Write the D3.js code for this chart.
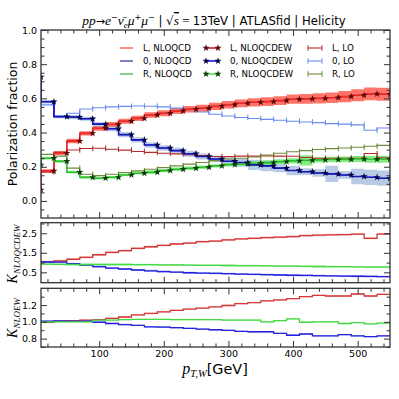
<!DOCTYPE html>
<html><head><meta charset="utf-8">
<script src="https://cdn.jsdelivr.net/npm/d3@7"></script>
<style>body{margin:0;background:#fff} svg{display:block}</style>
</head><body>
<svg id="c" width="399" height="399"></svg>
<script>
// ---------- data ----------
const pt = [10,30,50,70,90,110,130,150,170,190,210,230,250,270,290,310,330,350,370,390,410,430,450,470,490,510,530,550];
const polLabels = ["L", "0", "R"];
const calcLabels = ["NLOQCD", "NLOQCDEW", "LO"];

const L_NLOQCD   = [0.065,0.175,0.28,0.35,0.395,0.425,0.447,0.466,0.483,0.503,0.513,0.526,0.536,0.542,0.553,0.563,0.571,0.577,0.581,0.587,0.595,0.597,0.6,0.604,0.61,0.618,0.626,0.624];
const Z_NLOQCD   = [0.725,0.58,0.493,0.49,0.481,0.449,0.422,0.388,0.357,0.327,0.31,0.294,0.276,0.26,0.245,0.232,0.224,0.211,0.205,0.192,0.178,0.171,0.163,0.158,0.152,0.143,0.138,0.133];
const R_NLOQCD   = [0.21,0.25,0.232,0.168,0.138,0.133,0.138,0.152,0.162,0.168,0.177,0.185,0.191,0.197,0.205,0.212,0.216,0.22,0.224,0.23,0.234,0.237,0.24,0.242,0.243,0.245,0.244,0.244];
const L_NLOQCDEW = [0.065,0.175,0.28,0.35,0.395,0.425,0.447,0.466,0.483,0.503,0.513,0.526,0.536,0.542,0.553,0.563,0.571,0.577,0.581,0.587,0.595,0.597,0.6,0.604,0.61,0.618,0.626,0.624];
const Z_NLOQCDEW = [0.725,0.58,0.493,0.49,0.481,0.449,0.422,0.388,0.357,0.327,0.31,0.294,0.276,0.26,0.245,0.232,0.224,0.211,0.205,0.192,0.178,0.171,0.163,0.158,0.152,0.143,0.138,0.133];
const R_NLOQCDEW = [0.21,0.25,0.232,0.168,0.138,0.133,0.138,0.152,0.162,0.168,0.177,0.185,0.191,0.197,0.205,0.212,0.216,0.22,0.224,0.23,0.234,0.237,0.24,0.242,0.243,0.245,0.244,0.244];
const L_LO = [0.06,0.17,0.285,0.298,0.307,0.308,0.302,0.297,0.289,0.284,0.279,0.275,0.27,0.265,0.26,0.259,0.262,0.262,0.263,0.262,0.261,0.254,0.25,0.25,0.25,0.25,0.277,0.252];
const Z_LO = [0.72,0.562,0.495,0.513,0.538,0.545,0.55,0.553,0.555,0.554,0.55,0.543,0.533,0.52,0.507,0.497,0.488,0.482,0.477,0.472,0.466,0.462,0.458,0.452,0.449,0.445,0.413,0.427];
const R_LO = [0.22,0.272,0.262,0.192,0.156,0.148,0.156,0.166,0.176,0.185,0.195,0.205,0.215,0.225,0.236,0.245,0.25,0.257,0.268,0.279,0.288,0.294,0.301,0.306,0.31,0.314,0.32,0.325];
// uncertainty half-widths of the NLOQCDEW bands
const L_err = [0.01,0.01,0.012,0.013,0.013,0.014,0.014,0.015,0.015,0.016,0.017,0.018,0.019,0.02,0.021,0.022,0.023,0.024,0.025,0.026,0.027,0.028,0.03,0.031,0.033,0.035,0.037,0.038];
const Z_err = [0.01,0.01,0.01,0.012,0.012,0.013,0.014,0.015,0.015,0.016,0.016,0.017,0.018,0.018,0.019,0.02,0.022,0.03,0.032,0.025,0.028,0.02,0.022,0.048,0.022,0.045,0.045,0.045];
const R_err = [0.008,0.008,0.008,0.008,0.008,0.008,0.008,0.008,0.008,0.01,0.01,0.01,0.01,0.01,0.01,0.01,0.01,0.012,0.013,0.014,0.015,0.03,0.015,0.016,0.017,0.018,0.02,0.02];
// K-factor panels
const K_QCDEW_L = [1.045,1.045,1.08,1.17,1.27,1.4,1.52,1.61,1.73,1.81,1.88,1.95,2.0,2.07,2.1,2.16,2.21,2.24,2.28,2.3,2.33,2.38,2.4,2.42,2.43,2.46,2.24,2.46];
const K_QCDEW_Z = [1.03,1.03,1.02,0.94,0.87,0.79,0.72,0.67,0.62,0.58,0.54,0.51,0.48,0.46,0.45,0.43,0.41,0.395,0.38,0.365,0.35,0.34,0.33,0.32,0.31,0.3,0.29,0.28];
const K_QCDEW_R = [0.92,0.92,0.91,0.9,0.9,0.9,0.9,0.9,0.89,0.89,0.88,0.88,0.87,0.86,0.86,0.85,0.84,0.84,0.83,0.82,0.82,0.81,0.8,0.79,0.79,0.78,0.77,0.77];
const K_EW_L = [0.995,0.995,1.007,1.015,1.02,1.027,1.042,1.058,1.082,1.1,1.12,1.136,1.152,1.164,1.179,1.195,1.218,1.23,1.25,1.261,1.277,1.3,1.316,1.308,1.308,1.332,1.308,1.328];
const K_EW_Z = [1.007,1.007,1.01,1.007,1.007,0.995,0.98,0.968,0.957,0.941,0.938,0.93,0.922,0.914,0.906,0.898,0.886,0.882,0.882,0.863,0.84,0.855,0.832,0.832,0.847,0.832,0.824,0.832];
const K_EW_R = [1.0,1.0,1.0,1.0,1.0,1.02,1.02,1.027,1.03,1.03,1.03,1.027,1.027,1.027,1.027,1.02,1.02,1.02,1.0,1.015,1.035,0.995,1.0,1.0,0.98,0.99,0.976,0.985];
const K_QCDEW_err = 0.05;
const K_EW_err = 0.008;
// ticks
const xMajor = [100,200,300,400,500];
const xMinor = [20,40,60,80,120,140,160,180,220,240,260,280,320,340,360,380,420,440,460,480,520,540];
const yMainMajor = [0.0,0.2,0.4,0.6,0.8,1.0];
const yMainMinor = [-0.05,0.05,0.1,0.15,0.25,0.3,0.35,0.45,0.5,0.55,0.65,0.7,0.75,0.85,0.9,0.95];
const yK1Major = [0.5,1.5,2.5], yK1Minor = [1.0,2.0,3.0];
const yK2Major = [0.8,1.0,1.2], yK2Minor = [0.7,0.9,1.1,1.3];

// ---------- layout ----------
const svg = d3.select('#c');
const X0 = 41, X1 = 390;
const x = d3.scaleLinear().domain([10,550]).range([X0,X1]);
const yMain = d3.scaleLinear().domain([-0.1,1.0]).range([218,30]);
const yK1 = d3.scaleLinear().domain([-0.03,3.04]).range([282.7,222.7]);
const yK2 = d3.scaleLinear().domain([0.7,1.4]).range([347,288.3]);

const col = {
  L_QCD:'#ff2a2a', Z_QCD:'#1a1a9a', R_QCD:'#22aa22',
  L_EW:'#cc2222', Z_EW:'#1515dd', R_EW:'#55e055',
  L_EWs:'#5a0808', Z_EWs:'#000045', R_EWs:'#0a3a0a',
  L_LO:'#b42a2a', Z_LO:'#6a8cf0', R_LO:'#6f8a3a',
  L_band:'#ff3a2a', Z_band:'#8aa6d2', R_band:'#33e033'
};

function clip(id, ys){
  svg.append('clipPath').attr('id',id).append('rect')
    .attr('x',X0).attr('y',ys.range()[1]).attr('width',X1-X0).attr('height',ys.range()[0]-ys.range()[1]);
  return svg.append('g').attr('clip-path',`url(#${id})`);
}
const stepLine = ys => d3.line().x((d,i)=>x(pt[i])).y(d=>ys(d)).curve(d3.curveStepBefore);
const stepArea = (ys, v, e) => d3.area().x((d,i)=>x(pt[i]))
   .y0((d,i)=>ys(v[i]-(Array.isArray(e)?e[i]:e))).y1((d,i)=>ys(v[i]+(Array.isArray(e)?e[i]:e))).curve(d3.curveStepBefore);

// ---------- main panel ----------
const gm = clip('cm', yMain);
[[L_NLOQCDEW,L_err,col.L_band,0.7],[Z_NLOQCDEW,Z_err,col.Z_band,0.6],[R_NLOQCDEW,R_err,col.R_band,0.6]].forEach(([v,e,c,o])=>{
  gm.append('path').attr('d',stepArea(yMain,v,e)(v)).attr('fill',c).attr('opacity',o);
});
[[L_LO,col.L_LO],[Z_LO,col.Z_LO],[R_LO,col.R_LO]].forEach(([v,c])=>{
  gm.append('path').attr('d',stepLine(yMain)(v)).attr('fill','none').attr('stroke',c).attr('stroke-width',1.1);
  gm.selectAll(null).data(v).enter().append('line')
    .attr('x1',(d,i)=>x(pt[i])).attr('x2',(d,i)=>x(pt[i]))
    .attr('y1',d=>yMain(d)-2.8).attr('y2',d=>yMain(d)+2.8).attr('stroke',c).attr('stroke-width',1);
});
[[L_NLOQCDEW,col.L_EW],[Z_NLOQCDEW,col.Z_EW],[R_NLOQCDEW,col.R_EW]].forEach(([v,c])=>{
  gm.append('path').attr('d',stepLine(yMain)(v)).attr('fill','none').attr('stroke',c).attr('stroke-width',1.6);
});
[[L_NLOQCD,col.L_QCD],[Z_NLOQCD,col.Z_QCD],[R_NLOQCD,col.R_QCD]].forEach(([v,c])=>{
  gm.append('path').attr('d',stepLine(yMain)(v)).attr('fill','none').attr('stroke',c).attr('stroke-width',1.1).attr('opacity',0.85);
});
const star = d3.symbol().type(d3.symbolStar).size(16);
[[L_NLOQCDEW,col.L_EWs],[Z_NLOQCDEW,col.Z_EWs],[R_NLOQCDEW,col.R_EWs]].forEach(([v,c])=>{
  gm.selectAll(null).data(v).enter().append('path').attr('d',star)
    .attr('transform',(d,i)=>`translate(${x(pt[i])},${yMain(d)})`).attr('fill',c);
});

// ---------- K panels ----------
const gk1 = clip('ck1', yK1), gk2 = clip('ck2', yK2);
const kc = [['#d23a3a','#f2a8a8'],['#2323dd','#9a9af0'],['#44d844','#a8f0a8']];
[[gk1,yK1,[K_QCDEW_L,K_QCDEW_Z,K_QCDEW_R],K_QCDEW_err],[gk2,yK2,[K_EW_L,K_EW_Z,K_EW_R],K_EW_err]].forEach(([g,ys,arr,e])=>{
  arr.forEach((v,k)=>{
    g.append('path').attr('d',stepArea(ys,v,e)(v)).attr('fill',kc[k][1]).attr('opacity',0.8);
  });
  arr.forEach((v,k)=>{
    g.append('path').attr('d',stepLine(ys)(v)).attr('fill','none').attr('stroke',kc[k][0]).attr('stroke-width',1.3);
  });
});

// ---------- axes ----------
const axisCol = '#333';
function styleAxis(g){
  g.select('.domain').remove();
  g.selectAll('line').attr('stroke',axisCol).attr('stroke-width',1);
  g.selectAll('text').attr('font-family','DejaVu Sans').attr('font-size',9.5).attr('fill','#000');
}
function frame(ys, fmt, xLabels){
  const top = ys.range()[1], bot = ys.range()[0];
  const [maj,mnr,f] = fmt;
  svg.append('g').attr('transform',`translate(${X0},0)`).call(d3.axisLeft(ys).tickValues(maj).tickSize(-6).tickPadding(4).tickFormat(f)).call(styleAxis);
  svg.append('g').attr('transform',`translate(${X0},0)`).call(d3.axisLeft(ys).tickValues(mnr).tickSize(-3.5).tickFormat('')).call(styleAxis);
  svg.append('g').attr('transform',`translate(${X1},0)`).call(d3.axisRight(ys).tickValues(maj).tickSize(-6).tickFormat('')).call(styleAxis);
  svg.append('g').attr('transform',`translate(${X1},0)`).call(d3.axisRight(ys).tickValues(mnr).tickSize(-3.5).tickFormat('')).call(styleAxis);
  svg.append('g').attr('transform',`translate(0,${top})`).call(d3.axisTop(x).tickValues(xMajor).tickSize(-6).tickFormat('')).call(styleAxis);
  svg.append('g').attr('transform',`translate(0,${top})`).call(d3.axisTop(x).tickValues(xMinor).tickSize(-3.5).tickFormat('')).call(styleAxis);
  svg.append('g').attr('transform',`translate(0,${bot})`).call(d3.axisBottom(x).tickValues(xMajor).tickSize(-6).tickPadding(3.5).tickFormat(xLabels?d3.format('d'):'')).call(styleAxis);
  svg.append('g').attr('transform',`translate(0,${bot})`).call(d3.axisBottom(x).tickValues(xMinor).tickSize(-3.5).tickFormat('')).call(styleAxis);
  svg.append('rect').attr('x',X0).attr('y',top).attr('width',X1-X0).attr('height',bot-top)
    .attr('fill','none').attr('stroke',axisCol).attr('stroke-width',1.3);
}
frame(yMain,[yMainMajor,yMainMinor,d3.format('.1f')],false);
frame(yK1,[yK1Major,yK1Minor,d3.format('.1f')],false);
frame(yK2,[yK2Major,yK2Minor,d3.format('.1f')],true);

// ---------- legend ----------
const lg = svg.append('g').attr('font-family','DejaVu Sans').attr('font-size',8.7);
const rowsY = [48,61,74];
const legendCols = [
  {x0:120,x1:133,tx:143,kind:'line',cols:[col.L_QCD,col.Z_QCD,col.R_QCD]},
  {x0:206,x1:218,tx:230,kind:'star',cols:[col.L_EW,col.Z_EW,col.R_EW],mk:[col.L_EWs,col.Z_EWs,col.R_EWs]},
  {x0:308,x1:322,tx:332,kind:'tick',cols:[col.L_LO,col.Z_LO,col.R_LO]}
];
legendCols.forEach((c,ci)=>{
  polLabels.forEach((p,r)=>{
    const yy = rowsY[r];
    lg.append('line').attr('x1',c.x0).attr('x2',c.x1).attr('y1',yy).attr('y2',yy).attr('stroke',c.cols[r]).attr('stroke-width',ci===1?1.6:1.1);
    if(c.kind==='star'){
      [c.x0,c.x1].forEach(xx=>lg.append('path').attr('d',star).attr('transform',`translate(${xx},${yy})`).attr('fill',c.mk[r]));
    } else if(c.kind==='tick'){
      [c.x0,c.x1].forEach(xx=>lg.append('line').attr('x1',xx).attr('x2',xx).attr('y1',yy-2.8).attr('y2',yy+2.8).attr('stroke',c.cols[r]));
    }
    lg.append('text').attr('x',c.tx).attr('y',yy+3.1).text(`${p}, ${calcLabels[ci]}`);
  });
});

// ---------- titles / labels ----------
const serif = 'Liberation Serif';
const t = svg.append('text').attr('x',214).attr('y',25).attr('text-anchor','middle')
  .attr('font-family','DejaVu Sans').attr('font-size',11.7).attr('fill','#000');
function ts(txt, opt={}){
  const s = t.append('tspan').text(txt);
  if(opt.it){ s.attr('font-family',serif).attr('font-style','italic').attr('font-size',opt.fs||13.5); }
  if(opt.fs && !opt.it) s.attr('font-size',opt.fs);
  if(opt.dy) s.attr('dy',opt.dy);
  if(opt.ff) s.attr('font-family',opt.ff);
  if(opt.deco) s.attr('text-decoration',opt.deco);
  return s;
}
ts('pp',{it:1}); ts('\u2192',{fs:11}); ts('e',{it:1}); ts('\u2212',{fs:8,dy:-5}); ts('\u03bd\u0304',{it:1,dy:5}); ts('e',{it:1,fs:9,dy:2.5});
ts('\u03bc',{it:1,dy:-2.5}); ts('+',{fs:8,dy:-5}); ts('\u03bc',{it:1,dy:5}); ts('\u2212',{fs:8,dy:-5});
ts(' | ',{dy:5}); ts('\u221a',{ff:'DejaVu Sans',fs:12}); ts('s',{it:1,deco:'overline'}); ts(' = ',{ff:serif,fs:13}); ts('13TeV | ATLASfid | Helicity');

svg.append('text').attr('transform','translate(17,124) rotate(-90)').attr('text-anchor','middle')
  .attr('font-family','DejaVu Sans').attr('font-size',12.5).text('Polarization fraction');

function kLabel(cy, sub){
  const tt = svg.append('text').attr('transform',`translate(17,${cy}) rotate(-90)`).attr('text-anchor','middle')
    .attr('font-family',serif).attr('font-style','italic');
  tt.append('tspan').attr('font-size',14).text('K');
  tt.append('tspan').attr('font-size',9).attr('dy',2.5).text(sub);
}
kLabel(254,'NLOQCDEW');
kLabel(318,'NLOEW');

const xl = svg.append('text').attr('x',215).attr('y',374).attr('text-anchor','middle').attr('font-size',14.4);
xl.append('tspan').attr('font-family',serif).attr('font-style','italic').attr('font-size',16).text('p');
xl.append('tspan').attr('font-family',serif).attr('font-style','italic').attr('font-size',10.5).attr('dy',3).text('T,W');
xl.append('tspan').attr('font-family','DejaVu Sans').attr('dy',-3).text('[GeV]');
</script>
</body></html>
